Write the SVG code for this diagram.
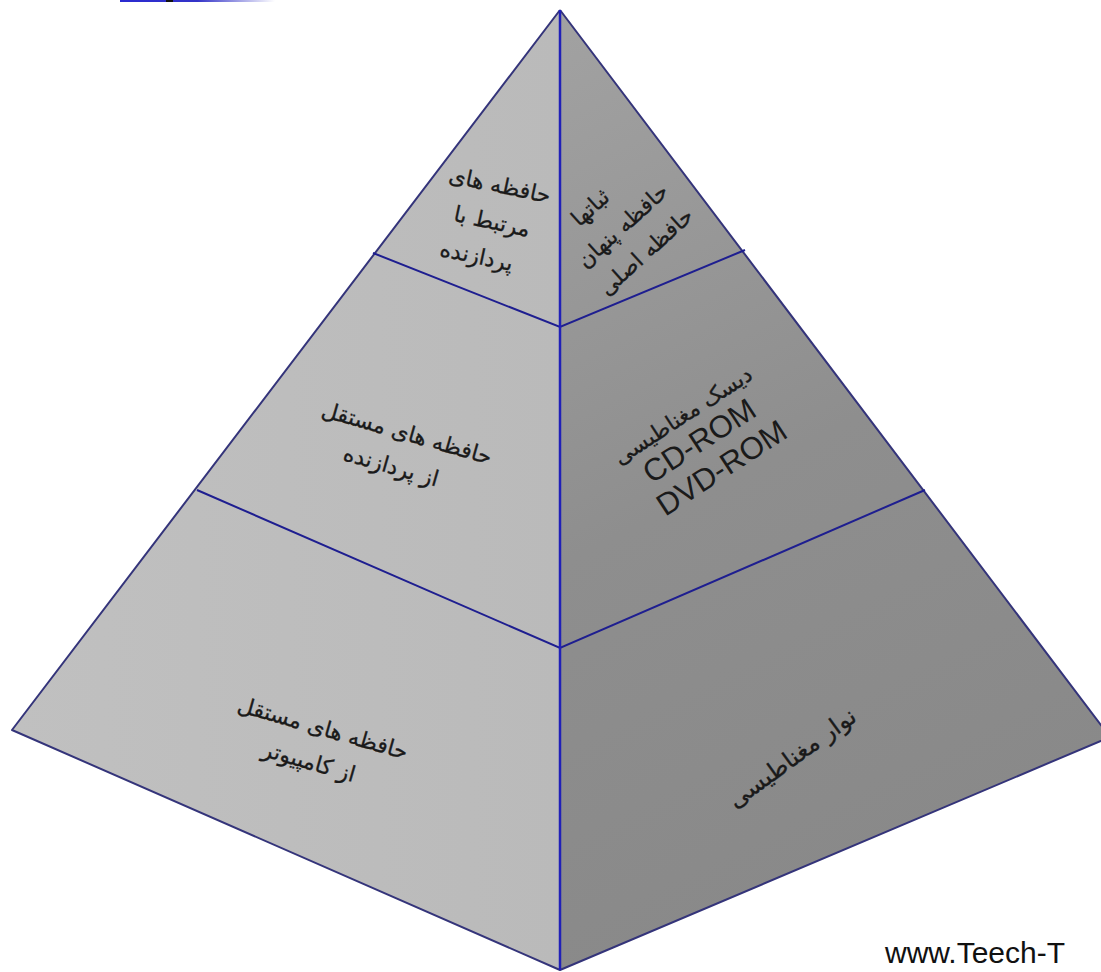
<svg xmlns="http://www.w3.org/2000/svg" width="1101" height="972" viewBox="0 0 1101 972">
<defs>
<linearGradient id="gl" x1="0" y1="0" x2="1" y2="0">
<stop offset="0" stop-color="#c0c0c0"/>
<stop offset="1" stop-color="#bababa"/>
</linearGradient>
<linearGradient id="gr" x1="560" y1="10" x2="1000" y2="900" gradientUnits="userSpaceOnUse">
<stop offset="0" stop-color="#a2a2a2"/>
<stop offset="0.5" stop-color="#8e8e8e"/>
<stop offset="1" stop-color="#888888"/>
</linearGradient>
<linearGradient id="gtop" x1="120" y1="0" x2="275" y2="0" gradientUnits="userSpaceOnUse">
<stop offset="0" stop-color="#2a2ad0"/>
<stop offset="0.5" stop-color="#3434c8"/>
<stop offset="1" stop-color="#ffffff"/>
</linearGradient>
<style>
.edge{fill:none;stroke:#34347a;stroke-width:2;stroke-linejoin:round}
.div{fill:none;stroke:#1e1e90;stroke-width:2}
.mid{stroke:#2020b8;stroke-width:2.5}
.fa{font-family:"DejaVu Sans","Noto Sans",sans-serif;font-size:22px;fill:#1a1a1a;text-anchor:middle;stroke:#1a1a1a;stroke-width:0.3}
.en{font-family:"Liberation Sans",Arial,sans-serif;font-size:31px;fill:#1a1a1a;text-anchor:middle}
.wm{font-family:"Liberation Sans",Arial,sans-serif;font-size:30px;fill:#111}
</style>
</defs>
<rect width="1101" height="972" fill="#ffffff"/>
<rect x="120" y="0" width="155" height="2" fill="url(#gtop)"/>
<rect x="166" y="0" width="7" height="2" fill="#111"/>
<g id="left-face">
<polygon points="560,10 12,730 560,970" fill="url(#gl)"/>
</g>
<g id="right-face">
<polygon points="560,10 1110,737 560,970" fill="url(#gr)"/>
</g>
<g id="connectors">
<polyline class="edge" points="560,10 12,730 560,970 1110,737 560,10"/>
<polyline class="div" points="373,253 560,327 745,250"/>
<polyline class="div" points="197,490 560,648 925,490"/>
<line class="mid" x1="560" y1="10" x2="560" y2="970"/>
</g>
<g id="n-top-left" transform="translate(492,222) rotate(12)">
<text class="fa" x="0" y="-30">حافظه های</text>
<text class="fa" x="0" y="7">مرتبط با</text>
<text class="fa" x="-8" y="44">پردازنده</text>
</g>
<g id="n-top-right" transform="translate(623,226) rotate(-42)">
<text class="fa" x="-12" y="-28">ثباتها</text>
<text class="fa" x="0" y="7">حافظه پنهان</text>
<text class="fa" x="0" y="42">حافظه اصلی</text>
</g>
<g id="n-mid-left" transform="translate(402,450) rotate(16)">
<text class="fa" x="0" y="-10">حافظه های مستقل</text>
<text class="fa" x="-6" y="26">از پردازنده</text>
</g>
<g id="n-mid-right" transform="translate(700,442) rotate(-33)">
<text class="fa" x="0" y="-24">دیسک مغناطیسی</text>
<text class="en" x="0" y="9">CD-ROM</text>
<text class="en" x="4" y="44">DVD-ROM</text>
</g>
<g id="n-bot-left" transform="translate(318,745) rotate(16)">
<text class="fa" x="0" y="-10">حافظه های مستقل</text>
<text class="fa" x="-4" y="26">از کامپیوتر</text>
</g>
<g id="n-bot-right" transform="translate(792,758) rotate(-36)">
<text class="fa" x="0" y="8" style="font-size:24px">نوار مغناطیسی</text>
</g>
<text class="wm" x="885" y="963">www.Teech-T</text>
</svg>
